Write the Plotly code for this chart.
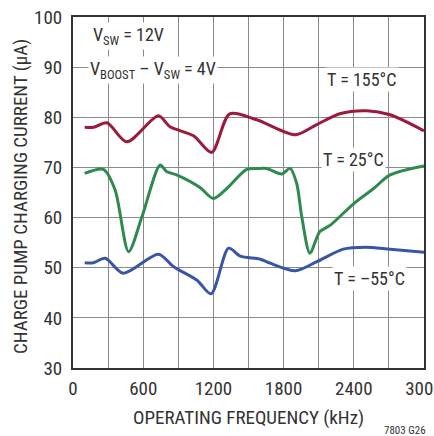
import plotly.graph_objects as go

# Data (frequency in kHz, current in µA)
f_155 = [100, 175, 290, 460, 730, 830, 1030, 1185, 1340, 1570, 1900, 2080, 2280, 2510, 2710, 3000]
i_155 = [78.0, 78.0, 78.9, 75.1, 80.3, 78.1, 76.3, 73.0, 80.7, 79.5, 76.5, 78.5, 80.7, 81.3, 80.5, 77.3]

f_25 = [100, 260, 360, 475, 590, 745, 800, 885, 1085, 1200, 1315, 1485, 1600, 1655, 1785, 1855,
        1912, 1955, 2025, 2110, 2200, 2400, 2570, 2710, 3000]
i_25 = [68.8, 69.6, 65.5, 53.2, 60.2, 70.5, 69.2, 68.5, 66.0, 63.8, 65.8, 69.6, 69.8, 69.8, 68.7, 69.8,
        66.8, 60.2, 52.9, 57.2, 58.5, 62.8, 65.8, 68.5, 70.3]

f_m55 = [100, 175, 275, 430, 730, 860, 1060, 1180, 1330, 1430, 1600, 1685, 1900, 2085, 2310, 2500, 2710, 3000]
i_m55 = [51.0, 51.0, 51.9, 48.9, 52.7, 50.2, 47.5, 44.8, 53.9, 52.3, 51.7, 50.9, 49.4, 51.2, 53.7, 54.1, 53.7, 53.1]

x_ticks = [0, 600, 1200, 1800, 2400, 3000]
x_tick_labels = ["0", "600", "1200", "1800", "2400", "3000"]
y_ticks = [30, 40, 50, 60, 70, 80, 90, 100]

FONT = "Liberation Sans Narrow, Roboto Condensed, Arial Narrow, Liberation Sans, sans-serif"
TXT = "#333333"

fig = go.Figure()
for fx, iy, col in [(f_155, i_155, "#9c1a3b"), (f_25, i_25, "#2f8a4f"), (f_m55, i_m55, "#3a55a6")]:
    fig.add_trace(go.Scatter(x=fx, y=iy, mode="lines",
                             line=dict(color=col, width=3, shape="spline", smoothing=0.8),
                             showlegend=False, hoverinfo="skip"))

fig.update_layout(
    width=434, height=436,
    margin=dict(l=73, r=10, t=17, b=68),
    paper_bgcolor="white", plot_bgcolor="white",
    font=dict(family=FONT, size=19, color=TXT),
    showlegend=False,
)
fig.update_xaxes(
    range=[0, 3000], tickvals=x_ticks, ticktext=x_tick_labels,
    showgrid=True, gridcolor="#8a8a8a", gridwidth=1,
    minor=dict(dtick=300, tick0=0, showgrid=True, gridcolor="#8a8a8a", gridwidth=1),
    showline=True, linecolor="#333333", linewidth=2, mirror=True,
    ticks="", zeroline=False, automargin=False, ticklabeloverflow="allow",
    tickfont=dict(family=FONT, size=19, color=TXT), ticklabelstandoff=2,
)
fig.update_yaxes(
    range=[30, 100], tickvals=y_ticks,
    showgrid=True, gridcolor="#8a8a8a", gridwidth=1,
    showline=True, linecolor="#333333", linewidth=2, mirror=True,
    ticks="", zeroline=False, automargin=False,
    tickfont=dict(family=FONT, size=19, color=TXT), ticklabelstandoff=5,
)

ann = [
    dict(text="V<sub>SW</sub> = 12V", x=0.05, y=0.946, xanchor="left", yanchor="middle", bgcolor="white"),
    dict(text="V<sub>BOOST</sub> – V<sub>SW</sub> = 4V", x=0.044, y=0.849, xanchor="left", yanchor="middle", bgcolor="white"),
    dict(text="T = 155°C", x=0.822, y=0.823, xanchor="center", yanchor="middle", bgcolor="white"),
    dict(text="T = 25°C", x=0.799, y=0.595, xanchor="center", yanchor="middle", bgcolor="white"),
    dict(text="T = –55°C", x=0.846, y=0.254, xanchor="center", yanchor="middle", bgcolor="white"),
    dict(text="OPERATING FREQUENCY (kHz)", x=0.5, y=-0.142, xanchor="center", yanchor="middle", font=dict(size=19)),
    dict(text="CHARGE PUMP CHARGING CURRENT (µA)", x=-0.151, y=0.49, xanchor="center", yanchor="middle",
         textangle=-90, font=dict(size=19)),
    dict(text="7803 G26", x=0.946, y=-0.179, xanchor="center", yanchor="middle", font=dict(size=11)),
]
for a in ann:
    a.setdefault("font", dict(size=18))
    a["font"] = dict(family=FONT, color=TXT, **a["font"])
    fig.add_annotation(xref="paper", yref="paper", showarrow=False, borderpad=1, **a)

fig.write_html("out.html", config={"displayModeBar": False},
               post_script="document.body.style.margin='0px';document.body.style.overflow='hidden';")
